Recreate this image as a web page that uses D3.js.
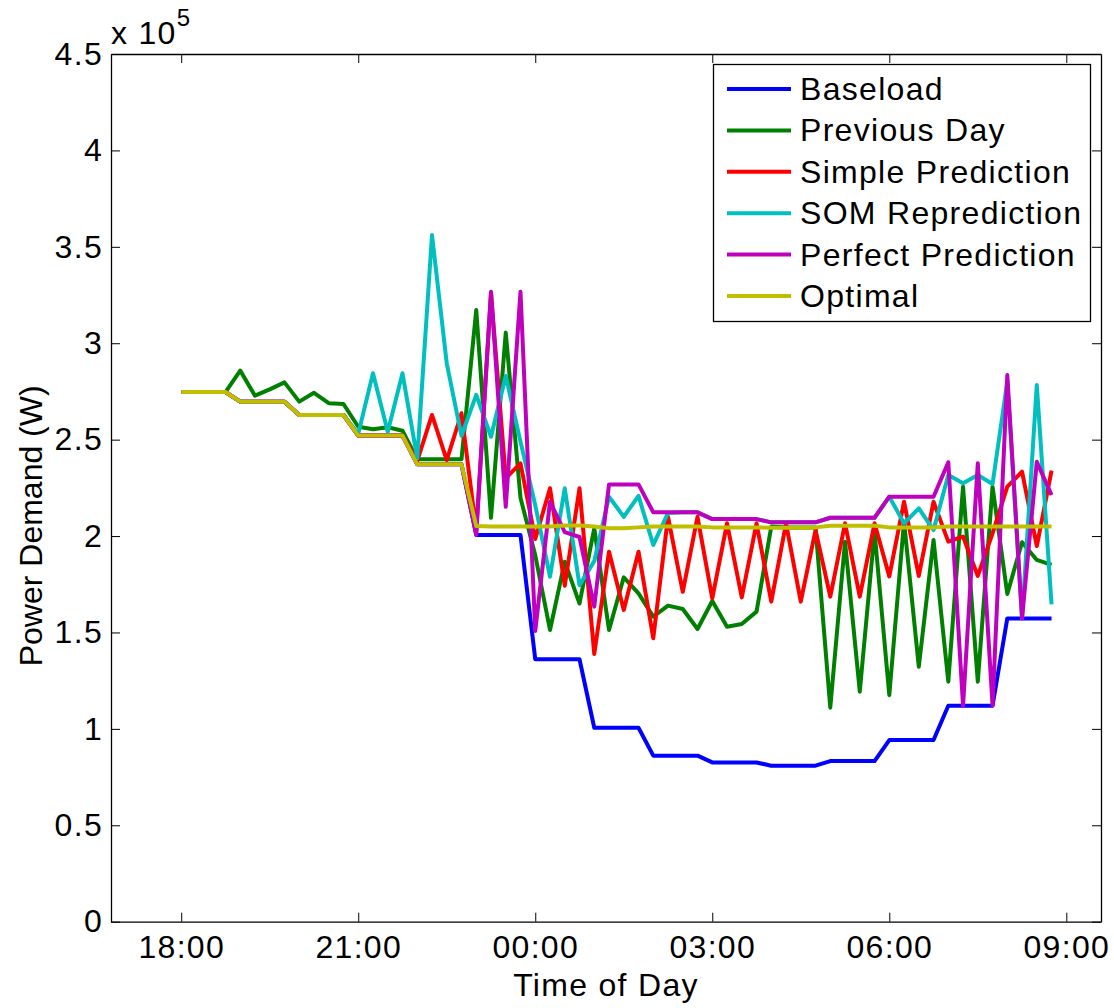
<!DOCTYPE html>
<html>
<head>
<meta charset="utf-8">
<script src="https://cdn.jsdelivr.net/npm/d3@7"></script>
<style>
  html, body { margin: 0; padding: 0; background: #fff; }
  svg { display: block; font-family: "Liberation Sans", Arial, sans-serif; }
  svg text { letter-spacing: 1.3px; }
  svg text.ytitle { letter-spacing: 0; }
</style>
</head>
<body>
<svg id="chart" width="1114" height="1008"></svg>
<script>
// Power demand over one night, sampled every 15 minutes from 18:00 (values in units of 10^5 W)
const startHour = 18;
const stepMinutes = 15;

const baseload = [
  2.747, 2.747, 2.747, 2.747, 2.697, 2.697, 2.697, 2.697, 2.628, 2.628,
  2.628, 2.628, 2.521, 2.521, 2.521, 2.521, 2.372, 2.372, 2.372, 2.372,
  2.006, 2.006, 2.006, 2.006, 1.361, 1.361, 1.361, 1.361, 1.006, 1.006,
  1.006, 1.006, 0.861, 0.861, 0.861, 0.861, 0.826, 0.826, 0.826, 0.826,
  0.809, 0.809, 0.809, 0.809, 0.833, 0.833, 0.833, 0.833, 0.942, 0.942,
  0.942, 0.942, 1.120, 1.120, 1.120, 1.120, 1.573, 1.573, 1.573, 1.573
];
const previousDay = [
  2.747, 2.747, 2.747, 2.747, 2.858, 2.728, 2.761, 2.797, 2.697, 2.743,
  2.689, 2.685, 2.567, 2.554, 2.564, 2.546, 2.398, 2.398, 2.398, 2.398,
  3.172, 2.095, 3.055, 2.198, 1.900, 1.513, 1.867, 1.650, 2.040, 1.513,
  1.786, 1.703, 1.582, 1.639, 1.622, 1.518, 1.663, 1.530, 1.544, 1.608,
  2.049, 2.045, 2.045, 2.045, 1.110, 1.971, 1.193, 2.023, 1.175, 2.075,
  1.322, 1.980, 1.245, 2.256, 1.245, 2.256, 1.700, 1.968, 1.876, 1.850
];
const simplePrediction = [
  2.747, 2.747, 2.747, 2.747, 2.697, 2.697, 2.697, 2.697, 2.628, 2.628,
  2.628, 2.628, 2.521, 2.521, 2.521, 2.521, 2.390, 2.628, 2.394, 2.637,
  2.030, 3.260, 2.300, 2.377, 1.985, 2.248, 1.742, 2.248, 1.388, 1.919,
  1.617, 1.919, 1.470, 2.100, 1.711, 2.100, 1.677, 2.066, 1.682, 2.066,
  1.660, 2.066, 1.660, 2.031, 1.686, 2.066, 1.686, 2.066, 1.791, 2.178,
  1.793, 2.178, 1.971, 1.997, 1.793, 2.014, 2.256, 2.334, 1.948, 2.339
];
const somReprediction = [
  2.747, 2.747, 2.747, 2.747, 2.697, 2.697, 2.697, 2.697, 2.628, 2.628,
  2.628, 2.628, 2.530, 2.844, 2.541, 2.844, 2.403, 3.561, 2.896, 2.520,
  2.732, 2.515, 2.830, 2.490, 2.160, 1.789, 2.248, 1.745, 1.870, 2.204,
  2.100, 2.208, 1.954, 2.120, 2.123, 2.123, 2.088, 2.088, 2.088, 2.088,
  2.071, 2.071, 2.071, 2.071, 2.095, 2.095, 2.095, 2.095, 2.204, 2.066,
  2.144, 2.031, 2.317, 2.274, 2.317, 2.270, 2.800, 1.573, 2.783, 1.646
];
const perfectPrediction = [
  2.747, 2.747, 2.747, 2.747, 2.697, 2.697, 2.697, 2.697, 2.628, 2.628,
  2.628, 2.628, 2.521, 2.521, 2.521, 2.521, 2.372, 2.372, 2.372, 2.372,
  2.006, 3.267, 2.152, 3.267, 1.508, 2.178, 2.020, 1.995, 1.634, 2.268,
  2.268, 2.268, 2.123, 2.123, 2.123, 2.123, 2.088, 2.088, 2.088, 2.088,
  2.071, 2.071, 2.071, 2.071, 2.095, 2.095, 2.095, 2.095, 2.204, 2.204,
  2.204, 2.204, 2.383, 1.120, 2.377, 1.122, 2.835, 1.573, 2.385, 2.213
];
const optimal = [
  2.747, 2.747, 2.747, 2.747, 2.697, 2.697, 2.697, 2.697, 2.628, 2.628,
  2.628, 2.628, 2.521, 2.521, 2.521, 2.521, 2.372, 2.372, 2.372, 2.372,
  2.052, 2.050, 2.050, 2.050, 2.050, 2.050, 2.055, 2.055, 2.050, 2.040,
  2.040, 2.045, 2.050, 2.050, 2.050, 2.050, 2.045, 2.045, 2.045, 2.045,
  2.043, 2.043, 2.043, 2.045, 2.053, 2.053, 2.053, 2.053, 2.045, 2.045,
  2.045, 2.045, 2.050, 2.050, 2.050, 2.050, 2.050, 2.050, 2.050, 2.050
];

const seriesNames = ["Baseload", "Previous Day", "Simple Prediction", "SOM Reprediction", "Perfect Prediction", "Optimal"];
const seriesColors = ["#0000ff", "#008000", "#ff0000", "#00bfbf", "#bf00bf", "#bfbf00"];
const seriesValues = [baseload, previousDay, simplePrediction, somReprediction, perfectPrediction, optimal];

// Axis ticks: hours elapsed since 18:00 and their clock labels
const xTickHours = [0, 3, 6, 9, 12, 15];
const xTickLabels = ["18:00", "21:00", "00:00", "03:00", "06:00", "09:00"];
const yTicks = [0, 0.5, 1, 1.5, 2, 2.5, 3, 3.5, 4, 4.5];
const yTickLabels = ["0", "0.5", "1", "1.5", "2", "2.5", "3", "3.5", "4", "4.5"];

const svg = d3.select("#chart");
const plot = { left: 111, right: 1101, top: 54, bottom: 921.7 };

const x = d3.scaleLinear().domain([-1.19, 15.588]).range([plot.left, plot.right]);
const y = d3.scaleLinear().domain([0, 4.5]).range([plot.bottom, plot.top]);

const hourOf = i => i * stepMinutes / 60;

// Series lines, legend order gives drawing order (Optimal on top)
const line = d3.line()
  .x((d, i) => x(hourOf(i)))
  .y(d => y(d));

const lines = svg.append("g");
seriesValues.forEach((vals, k) => {
  lines.append("path")
    .datum(vals)
    .attr("fill", "none")
    .attr("stroke", seriesColors[k])
    .attr("stroke-width", 4)
    .attr("stroke-linejoin", "round")
    .attr("d", line);
});

// Axes: MATLAB style box with inward ticks on all sides
const tickLen = 9;
const fontSize = 32;

const xBottom = d3.axisBottom(x).tickValues(xTickHours)
  .tickFormat((d, i) => xTickLabels[i]).tickSizeInner(-tickLen).tickSizeOuter(0).tickPadding(14);
const xTop = d3.axisTop(x).tickValues(xTickHours).tickFormat("").tickSizeInner(-tickLen).tickSizeOuter(0);
const yLeft = d3.axisLeft(y).tickValues(yTicks)
  .tickFormat((d, i) => yTickLabels[i]).tickSizeInner(-tickLen).tickSizeOuter(0).tickPadding(8);
const yRight = d3.axisRight(y).tickValues(yTicks).tickFormat("").tickSizeInner(-tickLen).tickSizeOuter(0);

function styleAxis(g) {
  g.selectAll("path.domain").attr("stroke", "#000").attr("stroke-width", 1.3);
  g.selectAll(".tick line").attr("stroke", "#000").attr("stroke-width", 1);
  g.selectAll(".tick text")
    .attr("fill", "#000")
    .style("font-size", fontSize + "px")
    .style("font-family", "'Liberation Sans', Arial, sans-serif");
}

svg.append("g").attr("transform", `translate(0,${plot.bottom})`).call(xBottom).call(styleAxis);
svg.append("g").attr("transform", `translate(0,${plot.top})`).call(xTop).call(styleAxis);
svg.append("g").attr("transform", `translate(${plot.left},0)`).call(yLeft).call(styleAxis);
svg.append("g").attr("transform", `translate(${plot.right},0)`).call(yRight).call(styleAxis);

svg.selectAll("text").attr("font-family", "'Liberation Sans', Arial, sans-serif");

// Exponent multiplier above the y axis
const expo = svg.append("text")
  .attr("x", 111).attr("y", 44)
  .style("font-size", fontSize + "px")
  .attr("fill", "#000");
expo.append("tspan").text("x 10");
expo.append("tspan").attr("dy", -18).style("font-size", "24px").text("5");

// Axis titles
svg.append("text")
  .attr("x", (plot.left + plot.right) / 2).attr("y", 996)
  .attr("text-anchor", "middle")
  .style("font-size", fontSize + "px")
  .attr("fill", "#000")
  .text("Time of Day");

svg.append("text")
  .attr("class", "ytitle")
  .attr("transform", `translate(42,${(plot.top + plot.bottom) / 2 + 38}) rotate(-90)`)
  .attr("text-anchor", "middle")
  .style("font-size", fontSize + "px")
  .attr("fill", "#000")
  .text("Power Demand (W)");

// Legend
const legend = svg.append("g");
legend.append("rect")
  .attr("x", 713.5).attr("y", 64.5).attr("width", 377).attr("height", 257)
  .attr("fill", "#fff").attr("stroke", "#000").attr("stroke-width", 1.3);

seriesNames.forEach((name, k) => {
  const cy = 89 + k * 41.4;
  legend.append("line")
    .attr("x1", 727).attr("x2", 791).attr("y1", cy).attr("y2", cy)
    .attr("stroke", seriesColors[k]).attr("stroke-width", 4);
  legend.append("text")
    .attr("x", 800).attr("y", cy + 11)
    .style("font-size", fontSize + "px")
    .attr("fill", "#000")
    .text(name);
});
</script>
</body>
</html>
